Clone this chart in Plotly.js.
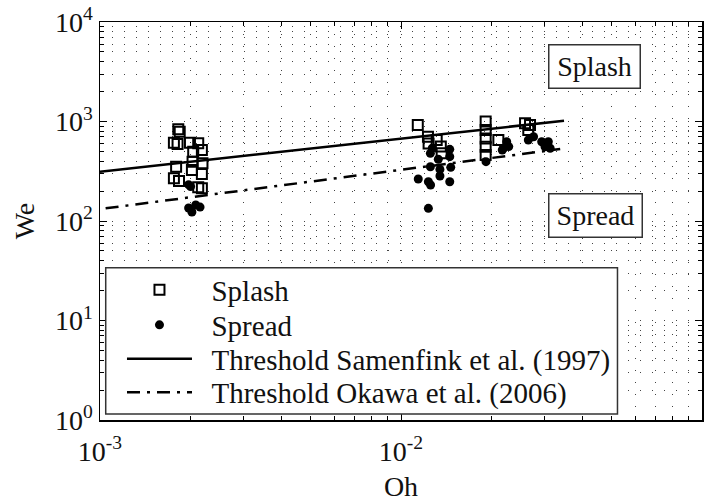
<!DOCTYPE html>
<html>
<head>
<meta charset="utf-8">
<script src="https://cdn.plot.ly/plotly-3.0.1.min.js"></script>
<style>html,body{margin:0;padding:0;background:#fff;}#chart{width:720px;height:502px;}</style>
</head>
<body>
<div id="chart"></div>
<script>
// Splash (open squares)
var splashOh = [0.00182, 0.00184, 0.00176, 0.00181, 0.00199, 0.00212, 0.00204, 0.00218, 0.00203, 0.00219, 0.00179, 0.00202, 0.00218, 0.00176, 0.00183, 0.00218, 0.00212,
                0.01137, 0.01229, 0.01235, 0.01314, 0.01356, 0.01365,
                0.01911, 0.01911, 0.01911, 0.01911, 0.01911, 0.02106,
                0.02583, 0.02683, 0.02648];
var splashWe = [835, 790, 612, 594, 612, 604, 497, 517, 394, 380, 351, 326, 297, 269, 252, 213, 218,
                922, 703, 600, 652, 560, 480,
                1000, 822, 676, 558, 461, 652,
                959, 922, 822];
// Spread (filled dots)
var spreadOh = [0.00197, 0.00200, 0.00197, 0.00208, 0.00215, 0.00202,
                0.01252, 0.01330, 0.01452, 0.01452, 0.01252, 0.01347, 0.01463, 0.01347, 0.01141, 0.01233, 0.01254, 0.01452, 0.01233, 0.01270,
                0.02245, 0.02188, 0.02170, 0.01916, 0.02280,
                0.02648, 0.02757, 0.02934, 0.03086, 0.03130, 0.03010, 0.02990];
var spreadWe = [232, 222, 135, 145, 138, 123,
                479, 417, 525, 443, 351, 330, 346, 283, 264, 248, 230, 248, 134, 540,
                626, 538, 517, 395, 560,
                652, 703, 626, 626, 538, 558, 604];
// Thresholds
var samenfinkOh = [0.001, 0.0348];
var samenfinkWe = [313, 1018];
var okawaOh = [0.001044, 0.0338];
var okawaWe = [134, 529];

var legendNames = ['Splash', 'Spread', 'Threshold Samenfink et al. (1997)', 'Threshold Okawa et al. (2006)'];
var regionLabels = ['Splash', 'Spread'];
var xTickVals = [0.001, 0.01, 0.1];
var xTickText = ['10<sup>-3</sup>', '10<sup>-2</sup>', '10<sup>-1</sup>'];
var yTickVals = [1, 10, 100, 1000, 10000];
var yTickText = ['10<sup>0</sup>', '10<sup>1</sup>', '10<sup>2</sup>', '10<sup>3</sup>', '10<sup>4</sup>'];

function minorVals(d0, d1) {
  var v = [];
  for (var e = d0; e < d1; e++) for (var k = 2; k <= 9; k++) v.push(k * Math.pow(10, e));
  return v;
}

var FONT = '"Liberation Serif", "Times New Roman", serif';
var PAD = '\u00a0\u00a0';
var traces = [
  {x: splashOh, y: splashWe, mode: 'markers', type: 'scatter', name: PAD + legendNames[0], legend: 'legend',
   marker: {symbol: 'square-open', size: 10, color: '#000', line: {width: 2, color: '#000'}}},
  {x: spreadOh, y: spreadWe, mode: 'markers', type: 'scatter', name: PAD + legendNames[1], legend: 'legend2',
   marker: {symbol: 'circle', size: 9, color: '#000'}},
  {x: samenfinkOh, y: samenfinkWe, mode: 'lines', type: 'scatter', name: PAD + legendNames[2], legend: 'legend3',
   line: {color: '#000', width: 2.5}},
  {x: okawaOh, y: okawaWe, mode: 'lines', type: 'scatter', name: PAD + legendNames[3], legend: 'legend4',
   line: {color: '#000', width: 2.5, dash: '13px,7px,3px,7px'}}
];

function leg(y) {
  return {x: 0.0365, y: y, xanchor: 'left', yanchor: 'middle',
          bgcolor: 'rgba(0,0,0,0)', borderwidth: 0,
          font: {family: FONT, size: 29, color: '#111'}, itemwidth: 65};
}

var gridDash = '1px,11px';
var axisCommon = {
  type: 'log', tickmode: 'array',
  ticks: 'inside', ticklen: 7, tickwidth: 1, tickcolor: '#000',
  showline: true, linecolor: '#000', linewidth: 1.5, mirror: 'ticks',
  showgrid: true, gridcolor: '#444', gridwidth: 1, griddash: gridDash,
  zeroline: false, tickfont: {family: FONT, size: 28, color: '#111'}
};
function axis(extra) { var o = {}; for (var k in axisCommon) o[k] = axisCommon[k]; for (var j in extra) o[j] = extra[j]; return o; }

var layout = {
  width: 720, height: 502,
  margin: {l: 100, r: 18, t: 22, b: 82},
  paper_bgcolor: '#fff', plot_bgcolor: '#fff',
  font: {family: FONT, size: 28, color: '#111'},
  showlegend: true,
  xaxis: axis({
    range: [-3, -1], tickvals: xTickVals, ticktext: xTickText, ticklabelstandoff: 6,
    minor: {tickmode: 'array', tickvals: minorVals(-3, -1), ticks: 'inside', ticklen: 4, tickcolor: '#000',
            showgrid: true, gridcolor: '#444', gridwidth: 1, griddash: gridDash},
    title: {text: 'Oh', font: {family: FONT, size: 28, color: '#111'}, standoff: 10}
  }),
  yaxis: axis({
    range: [0, 4], tickvals: yTickVals, ticktext: yTickText,
    minor: {tickmode: 'array', tickvals: minorVals(0, 4), ticks: 'inside', ticklen: 4, tickcolor: '#000',
            showgrid: true, gridcolor: '#444', gridwidth: 1, griddash: gridDash},
    title: {text: 'We', font: {family: FONT, size: 28, color: '#111'}, standoff: 12}
  }),
  legend: leg(0.3266),
  legend2: leg(0.2387),
  legend3: leg(0.1533),
  legend4: leg(0.0696),
  shapes: [
    {type: 'rect', xref: 'paper', yref: 'paper', x0: 0.0095, x1: 0.8596, y0: 0.0151, y1: 0.3827,
     line: {color: '#333', width: 1.5}, fillcolor: '#fff', layer: 'above'}
  ],
  annotations: [
    {xref: 'paper', yref: 'paper', x: 0.822, y: 0.889, xanchor: 'center', yanchor: 'middle',
     text: regionLabels[0], showarrow: false,
     font: {family: FONT, size: 28, color: '#111'}, bordercolor: '#333', borderwidth: 1.5, width: 88, height: 40, bgcolor: '#fff'},
    {xref: 'paper', yref: 'paper', x: 0.823, y: 0.5126, xanchor: 'center', yanchor: 'middle',
     text: regionLabels[1], showarrow: false,
     font: {family: FONT, size: 28, color: '#111'}, bordercolor: '#333', borderwidth: 1.5, width: 90, height: 40, bgcolor: '#fff'}
  ]
};

Plotly.newPlot('chart', traces, layout, {displayModeBar: false, staticPlot: true});
</script>
</body>
</html>
